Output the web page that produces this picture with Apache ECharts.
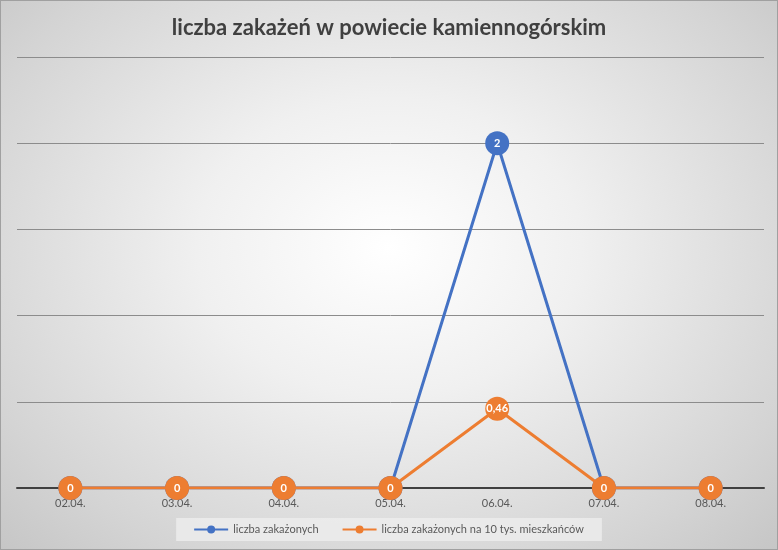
<!DOCTYPE html>
<html>
<head>
<meta charset="utf-8">
<script src="https://cdn.jsdelivr.net/npm/echarts@6/dist/echarts.min.js"></script>
<style>
  html, body { margin: 0; padding: 0; }
  #chart {
    width: 778px; height: 550px; box-sizing: border-box;
    border: 1px solid #a0a0a0;
    background: radial-gradient(ellipse at 50% 45%, #ffffff 0%, #f0f0f0 35%, #d4d4d4 80%, #c6c6c6 100%);
  }
</style>
</head>
<body>
<div id="chart"></div>
<script>
// dane
var days = ["02.04.", "03.04.", "04.04.", "05.04.", "06.04.", "07.04.", "08.04."];
var zakazeni = [0, 0, 0, 0, 2, 0, 0];
var na10tys = [0, 0, 0, 0, 0.46, 0, 0];

var myChart = echarts.init(document.getElementById("chart"));

var labelStyle = {
  show: true,
  position: "inside",
  color: "#fff",
  fontWeight: "bold",
  fontSize: 11,
  fontFamily: "Lato",
  formatter: function (p) {
    return String(p.value).replace(".", ",");
  }
};

// linia z kropką w legendzie (kropka osobno, żeby nie było dziury)
var legendIcon = "path://M0,4 L13.2,4 L13.2,6 L0,6 Z M20.8,4 L34,4 L34,6 L20.8,6 Z M13,5 A4,4 0 1,1 21,5 A4,4 0 1,1 13,5 Z";

myChart.setOption({
  backgroundColor: "transparent",
  title: {
    text: "liczba zakażeń w powiecie kamiennogórskim",
    left: "center",
    top: 11,
    textStyle: {
      fontFamily: "Lato",
      fontSize: 22,
      fontWeight: "bold",
      color: "#404040"
    }
  },
  legend: {
    bottom: 8,
    left: "center",
    itemWidth: 34,
    itemHeight: 10,
    itemGap: 24,
    padding: [6, 18],
    backgroundColor: "rgba(238,238,238,0.8)",
    textStyle: { fontFamily: "Lato", fontSize: 11, color: "#595959" },
    data: [
      { name: "liczba zakażonych", icon: legendIcon },
      { name: "liczba zakażonych na 10 tys. mieszkańców", icon: legendIcon }
    ]
  },
  grid: { left: 16, right: 13, top: 56, bottom: 61 },
  xAxis: {
    type: "category",
    data: days,
    boundaryGap: true,
    axisLine: { lineStyle: { color: "#404040", width: 2 } },
    axisTick: { show: false },
    axisLabel: { color: "#595959", fontFamily: "Lato", fontSize: 11, margin: 10 }
  },
  yAxis: {
    type: "value",
    min: 0,
    max: 2.5,
    interval: 0.5,
    axisLabel: { show: false },
    axisLine: { show: false },
    axisTick: { show: false },
    splitLine: { lineStyle: { color: "#8c8c8c", width: 1 } }
  },
  series: [
    {
      name: "liczba zakażonych",
      type: "line",
      data: zakazeni,
      color: "#4472C4",
      symbol: "circle",
      symbolSize: 24,
      lineStyle: { width: 3 },
      label: labelStyle,
      z: 2
    },
    {
      name: "liczba zakażonych na 10 tys. mieszkańców",
      type: "line",
      data: na10tys,
      color: "#ED7D31",
      symbol: "circle",
      symbolSize: 24,
      lineStyle: { width: 3 },
      label: labelStyle,
      z: 3
    }
  ]
});
</script>
</body>
</html>
